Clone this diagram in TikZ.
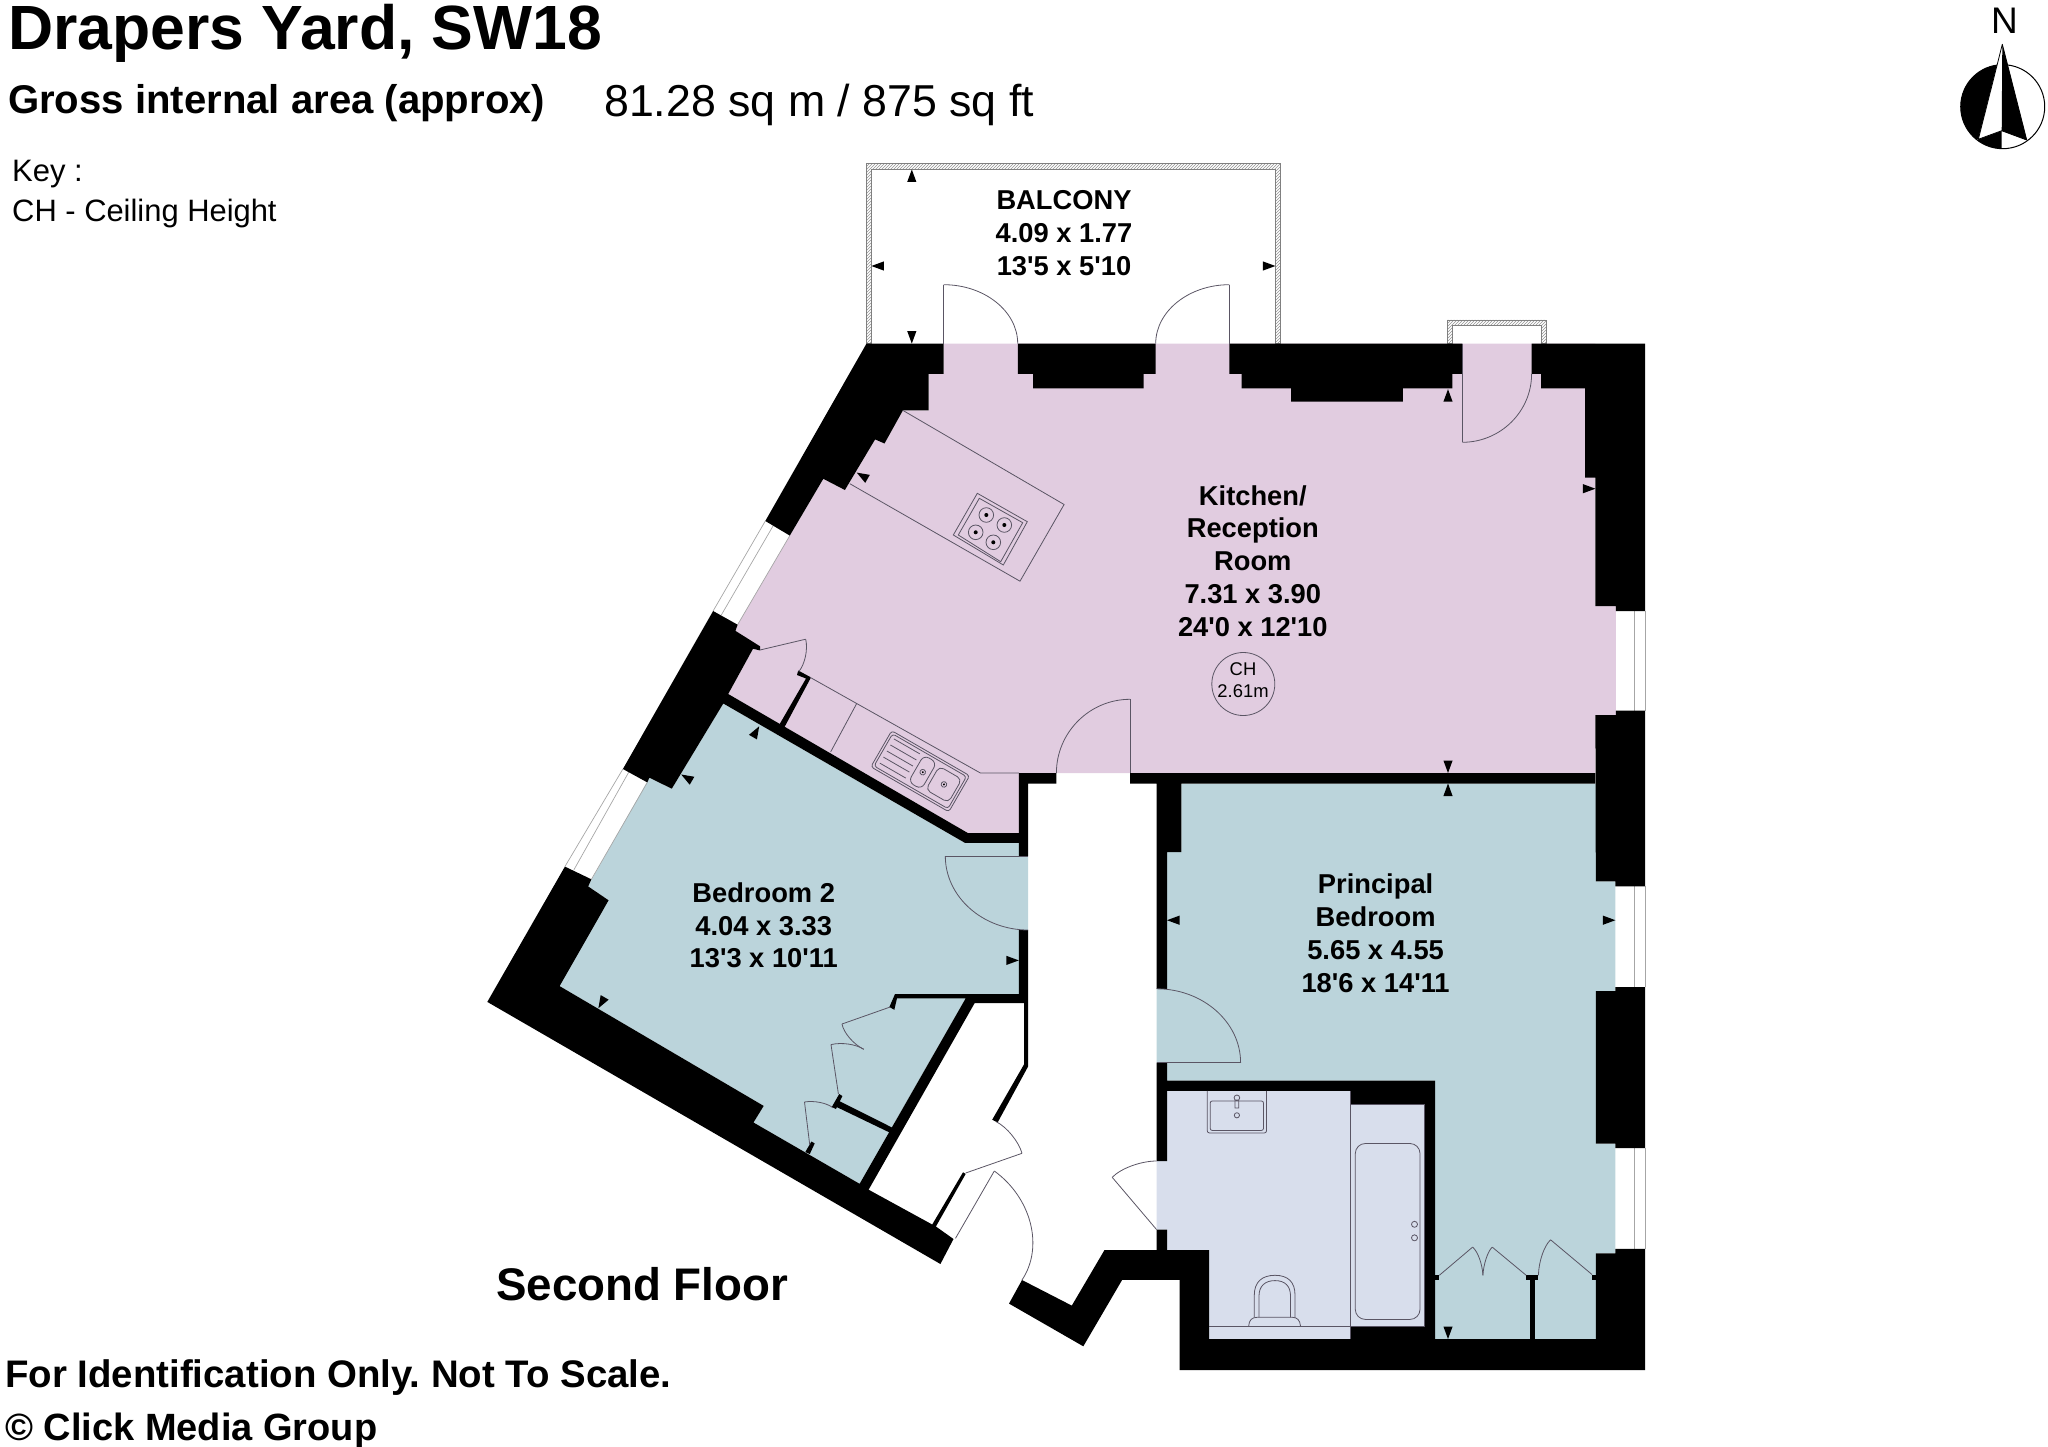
\documentclass[tikz,border=0pt]{standalone}
\usepackage{fontspec}
\setmainfont{Liberation Sans}
\usetikzlibrary{calc,patterns}
\definecolor{kitchenpink}{RGB}{225,204,224}
\definecolor{bedroomblue}{RGB}{187,212,219}
\definecolor{bathlilac}{RGB}{216,222,236}
\definecolor{linegrey}{RGB}{90,85,100}
\newcommand{\swing}[3]{\draw[lineart] (#1) .. controls ($(#1)!.55!(#2)$) and ($(#3)!.55!(#2)$) .. (#3);}
\tikzset{
   wall/.style={fill=black},
   lineart/.style={draw=linegrey, line width=0.8pt},
   windowline/.style={draw=gray!70, line width=0.7pt},
   hatchband/.style={draw=gray, line width=0.6pt, pattern=north east lines, pattern color=gray!85},
   roomlabel/.style={font=\bfseries\fontsize{27.3}{32.8}\selectfont, align=center, inner sep=0pt},
   headline/.style={anchor=base west, inner sep=0pt}
}
\begin{document}
\frenchspacing
\begin{tikzpicture}[x=1pt, y=-1pt]
   \useasboundingbox (0,0) rectangle (2048,1447);
   % rooms
   \fill[kitchenpink] (943.7,343.6) -- (1595.4,343.6) -- (1595.4,606) -- (1615.8,606) -- (1615.8,715) -- (1595.4,715) -- (1595.4,773)
      -- (1018.8,773) -- (1018.8,833) -- (967.8,833) -- (728.2,694) -- (753,648.8) -- (760,650) -- (735.5,630.9) -- (737.6,624.7)
      -- (789.8,535.6) -- (823.3,478.8) -- (844.9,490) -- (875.1,439.4) -- (884.5,443.5) -- (902.9,410.4) -- (928.6,410.4)
      -- (928.6,373.9) -- (943.7,373.9) -- cycle;
   \fill[bedroomblue] (588,886) -- (649.4,777.7) -- (671.8,788.7) -- (723.3,703.5) -- (965,842.9) -- (1018.8,842.9) -- (1018.8,856)
      -- (1028.2,856) -- (1028.2,930) -- (1018.8,930) -- (1018.8,994) -- (965.7,998.3) -- (859.6,1183.8) -- (753.5,1122.5)
      -- (763.7,1105.9) -- (559.6,986.1) -- (608.6,900.3) -- cycle;
   \fill[bedroomblue] (1181.4,783.5) -- (1595.8,783.5) -- (1595.8,881.4) -- (1615.4,881.4) -- (1615.4,991.2) -- (1595.8,991.2)
      -- (1595.8,1143.5) -- (1615.4,1143.5) -- (1615.4,1253.3) -- (1595.8,1253.3) -- (1595.8,1339) -- (1435.2,1339) -- (1435.2,1080.6)
      -- (1167,1080.6) -- (1167,1062.7) -- (1156.6,1062.7) -- (1156.6,988.8) -- (1167,988.8) -- (1167,852) -- (1181.4,852) -- cycle;
   \fill[bathlilac] (1156.6,1161) -- (1167,1161) -- (1167,1090.8) -- (1350.8,1090.8) -- (1350.8,1104.3) -- (1424.8,1104.3) -- (1424.8,1326)
      -- (1350.8,1326) -- (1350.8,1339) -- (1209,1339) -- (1209,1250) -- (1167,1250) -- (1167,1229.6) -- (1156.6,1229.6) -- cycle;
   % balconies
   \draw[hatchband] (866.5,343.6) -- (866.5,163.7) -- (1280,163.7) -- (1280,343.6) -- (1275,343.6) -- (1275,169.5) -- (871.5,169.5) -- (871.5,343.6) -- cycle;
   \draw[hatchband] (1447.5,343.6) -- (1447.5,320) -- (1546.4,320) -- (1546.4,343.6) -- (1541.2,343.6) -- (1541.2,325.5) -- (1452.7,325.5) -- (1452.7,343.6) -- cycle;
   % windows
   \draw[windowline] (765.3,521) -- (713.1,611) (773.5,525.2) -- (721.2,615.2) (789.8,535.6) -- (737.6,624.7);
   \draw[windowline] (622.9,769) -- (564.9,866.6) (629,771.7) -- (573.9,869.8) (647.3,782.4) -- (591.4,879.3);
   \foreach \wtop/\wbot in {611/710.5, 886.3/987.1, 1148/1248.8} {
      \draw[windowline] (1645,\wtop) -- (1645,\wbot) (1634.5,\wtop) -- (1634.5,\wbot);
   }
   % walls
   \fill[wall] (866.5,343.6) -- (943.7,343.6) -- (943.7,373.9) -- (928.6,373.9) -- (928.6,410.4) -- (902.9,410.4) -- (884.5,443.5) -- (875.1,439.4)
      -- (844.9,490) -- (823.3,478.8) -- (789.8,535.6) -- (765.3,521) -- cycle;
   \fill[wall] (1017.8,343.6) -- (1017.8,373.9) -- (1033,373.9) -- (1033,388.4) -- (1143.5,388.4) -- (1143.5,373.9) -- (1155.7,373.9) -- (1155.7,343.6) -- cycle;
   \fill[wall] (1229.4,343.6) -- (1229.4,373.9) -- (1241.5,373.9) -- (1241.5,388.4) -- (1291,388.4) -- (1291,401.7) -- (1402.9,401.7) -- (1402.9,388.4)
      -- (1452.3,388.4) -- (1452.3,373.9) -- (1462.3,373.9) -- (1462.3,343.6) -- cycle;
   \fill[wall] (1531.6,343.6) -- (1645,343.6) -- (1645,611) -- (1615.8,611) -- (1615.8,606) -- (1595.4,606) -- (1595.4,477.5) -- (1585,477.5) -- (1585,388.4)
      -- (1541.2,388.4) -- (1541.2,373.9) -- (1531.6,373.9) -- cycle;
   \fill[wall] (1595.4,715) -- (1615.8,715) -- (1615.8,710.5) -- (1645,710.5) -- (1645,886.3) -- (1615.4,886.3) -- (1615.4,881.4) -- (1595.8,881.4) -- cycle;
   \fill[wall] (1595.8,991.2) -- (1615.4,991.2) -- (1615.4,987.1) -- (1645,987.1) -- (1645,1148) -- (1615.4,1148) -- (1615.4,1143.5) -- (1595.8,1143.5) -- cycle;
   \fill[wall] (713.1,611) -- (737.6,624.7) -- (735.5,630.9) -- (760,646.3) -- (760,650.4) -- (753,648.8) -- (728.2,694) -- (967.8,833) -- (1018.8,833) -- (1018.8,842.9)
      -- (965,842.9) -- (723.3,703.5) -- (671.8,788.7) -- (649.4,777.7) -- (647.3,782.4) -- (622.9,769) -- cycle;
   \fill[wall] (1018.8,773) -- (1056.4,773) -- (1056.4,783.6) -- (1028.2,783.6) -- (1028.2,856) -- (1018.8,856) -- cycle;
   \fill[wall] (1130,773) -- (1595.4,773) -- (1595.4,783.5) -- (1181.4,783.5) -- (1181.4,852) -- (1167,852) -- (1167,988.8) -- (1156.6,988.8) -- (1156.6,783.5) -- (1130,783.5) -- cycle;
   \fill[wall] (1156.6,1062.7) -- (1167,1062.7) -- (1167,1080.6) -- (1435.2,1080.6) -- (1435.2,1345) -- (1350.8,1345) -- (1350.8,1326) -- (1424.8,1326) -- (1424.8,1104.3)
      -- (1350.8,1104.3) -- (1350.8,1090.8) -- (1167,1090.8) -- (1167,1161) -- (1156.6,1161) -- cycle;
   \fill[wall] (564.9,866.6) -- (591.4,879.3) -- (588.2,886.4) -- (608.6,900.3) -- (559.6,986.1) -- (763.7,1105.9) -- (753.5,1122.5) -- (859.6,1183.8) -- (965.7,998.3)
      -- (897,998.3) -- (894.3,1009.8) -- (889.4,1007) -- (895,994) -- (1018.8,994) -- (1018.8,930) -- (1028.2,930) -- (1028.2,1066.3) -- (997.6,1122.5) -- (992.2,1119.7)
      -- (1024,1064.4) -- (1024,1003) -- (974.7,1003) -- (868.6,1189.7) -- (932.2,1224.5) -- (963,1172.3) -- (965.7,1173.9) -- (935.9,1226.5) -- (953.5,1239)
      -- (940.4,1264) -- (487.3,1001.9) -- cycle;
   \fill[wall] (1156.6,1229.6) -- (1167,1229.6) -- (1167,1250) -- (1209,1250) -- (1209,1339) -- (1595.8,1339) -- (1595.8,1253.3) -- (1615.4,1253.3) -- (1615.4,1248.8)
      -- (1645,1248.8) -- (1645,1370) -- (1179.5,1370) -- (1179.5,1279.8) -- (1122.2,1279.8) -- (1083.3,1346.3) -- (1009,1303.6) -- (1022,1280) -- (1071.8,1305.6)
      -- (1104.5,1250) -- (1156.6,1250) -- cycle;
   % cupboards and wardrobes
   \fill[wall] (798.2,670.5) -- (811,677.4) -- (784.5,727.1) -- (779.6,724.2) -- (806,678.5) -- (797,675) -- cycle;
   \fill[wall] (837.1,1100) -- (892.2,1127.6) -- (889.4,1132.4) -- (834.3,1105.9) -- cycle;
   \fill[wall] (839.2,1094) -- (842.4,1096) -- (835.9,1109) -- (831.8,1107) -- cycle;
   \fill[wall] (811.4,1141.5) -- (814.7,1143.4) -- (809.8,1154) -- (805.3,1152) -- cycle;
   \fill[wall] (1530.3,1279.8) rectangle (1535.4,1339);
   \fill[wall] (1526.2,1275.3) rectangle (1538.4,1279.8);
   \fill[wall] (1435,1275.3) rectangle (1439.3,1279.8);
   \fill[wall] (1592,1275.3) rectangle (1595.8,1279.8);
   % doors
   \draw[lineart] (943.7,343.6) -- (943.7,284.7);
   \swing{943.7,284.7}{1017.7,284.7}{1017.7,343.6}
   \draw[lineart] (1229.4,343.6) -- (1229.4,284.7);
   \swing{1229.4,284.7}{1155.7,284.7}{1155.7,343.6}
   \draw[lineart] (1462.3,343.6) -- (1462.3,442.3);
   \swing{1462.3,442.3}{1531.6,442.3}{1531.6,373.9}
   \draw[lineart] (1130,773) -- (1130,699.3);
   \swing{1130,699.3}{1056.4,699.3}{1056.4,773}
   \draw[lineart] (1028.2,856) -- (945.3,856);
   \swing{945.3,856}{945.3,930}{1028.2,930}
   \draw[lineart] (1156.6,1062.7) -- (1240.6,1062.7);
   \swing{1240.6,1062.7}{1240.6,988.8}{1156.6,988.8}
   \draw[lineart] (1156.6,1229.6) -- (1112.2,1177.3);
   \swing{1112.2,1177.3}{1128,1161}{1156.6,1161}
   \draw[lineart] (955.5,1238.3) -- (994.3,1171);
   \swing{994.3,1171}{1062,1220}{1022,1280}
   \draw[lineart] (965.7,1173) -- (1022,1153.3);
   \swing{1022,1153.3}{1016,1132}{996.3,1121.7}
   \draw[lineart] (760,650) -- (805.7,639.2);
   \swing{805.7,639.2}{810,658}{798.8,671.6}
   \draw[lineart] (890.2,1007) -- (842,1024);
   \swing{842,1024}{845,1040}{863.7,1049.3}
   \draw[lineart] (838.4,1094) -- (831,1044.6);
   \swing{831,1044.6}{850,1040}{863.7,1049.3}
   \draw[lineart] (809.8,1145.4) -- (804.5,1102);
   \swing{804.5,1102}{822,1099}{833,1107.8}
   \draw[lineart] (1439.3,1275.3) -- (1472.6,1247.1);
   \swing{1472.6,1247.1}{1482,1255}{1482.9,1275.3}
   \draw[lineart] (1526.2,1275.3) -- (1492.2,1247.1);
   \swing{1492.2,1247.1}{1484,1255}{1482.9,1275.3}
   \draw[lineart] (1592,1274.5) -- (1550.6,1239.8);
   \swing{1550.6,1239.8}{1539,1250}{1538.4,1275.3}
   % kitchen units
   \draw[lineart] (902.9,410.4) -- (1064.1,504.5) -- (1020,581.2) -- (849.8,483.7);
   \draw[lineart] (977.3,493.3) -- (1027.3,521.7) -- (1003.3,565) -- (953.3,535) -- cycle;
   \draw[lineart] (979.3,498.3) -- (1022.7,522.7) -- (1000.7,561.7) -- (958.3,535) -- cycle;
   \foreach \bx/\by in {986.3/515, 1004.3/525, 975.7/532.3, 993.3/542.3} {
      \draw[lineart] (\bx,\by) circle (7.3);
      \fill (\bx,\by) circle (2);
   }
   \draw[lineart] (810.2,677.4) -- (980.4,773) -- (1018.8,773) (856.7,703.5) -- (830.6,752);
   \begin{scope}[shift={(891.7,730.7)}, rotate=-30]
      \draw[lineart, rounded corners=3pt] (0,0) rectangle (90,41.7);
      \draw[lineart, rounded corners=3pt] (2.3,2.3) rectangle (87.7,39.4);
      \draw[lineart, rounded corners=6pt] (40,5) rectangle (55,36);
      \draw[lineart, rounded corners=5pt] (59,7) rectangle (85,34);
      \foreach \dy in {6,13,20,27,34} {\draw[lineart] (6,\dy) -- (36,\dy);}
      \foreach \dx in {47.6,72.1} {
         \draw[lineart] (\dx,20.4) circle (2.8);
         \fill (\dx,20.4) circle (1.1);
      }
   \end{scope}
   % bathroom fittings
   \draw[lineart] (1350.8,1090.8) -- (1350.8,1339) (1350.8,1104.3) -- (1424.8,1104.3) -- (1424.8,1326) -- (1350.8,1326) (1209,1326.3) -- (1350.8,1326.3);
   \draw[lineart, rounded corners=10pt] (1355.3,1143.5) rectangle (1420,1319.4);
   \foreach \ty in {1224.3,1237.8} {\draw[lineart] (1414.5,\ty) circle (3);}
   \draw[lineart, rounded corners=2pt] (1207.3,1090.8) -- (1207.3,1132.9) -- (1266.5,1132.9) -- (1266.5,1090.8);
   \draw[lineart, rounded corners=2pt] (1210.2,1101) rectangle (1263.5,1130.4);
   \draw[lineart] (1236.9,1097.8) circle (2.8) (1236.9,1115.3) circle (2.6) (1235,1100) rectangle (1238.8,1108);
   \draw[lineart] (1254.3,1317.3) -- (1254.3,1295) .. controls (1254.3,1282) and (1262,1275.3) .. (1275,1275.3) .. controls (1288,1275.3) and (1295,1282) .. (1295,1295) -- (1295,1317.3);
   \draw[lineart] (1259,1317.3) -- (1259,1296) .. controls (1259,1286) and (1265,1280.6) .. (1275,1280.6) .. controls (1285,1280.6) and (1290.5,1286) .. (1290.5,1296) -- (1290.5,1317.3);
   \draw[lineart] (1248.7,1326) .. controls (1249,1320) and (1252,1317.3) .. (1257.2,1317.3) -- (1292.4,1317.3) .. controls (1297,1317.3) and (1300,1320) .. (1300.5,1326);
   % measuring tips
   \foreach \tx/\ty/\tang in {911.8/169.5/90, 911.8/343.6/-90, 871.4/266/180, 1275.4/266/0,
      1448/389.2/90, 1448/773/-90, 1595.4/488.7/0, 856.7/472.6/150,
      759.2/726.3/60, 681.2/774.5/150, 1018.8/960.4/0, 598.4/1008.2/-120,
      1448/783.5/90, 1448/1339/-90, 1167/920.2/180, 1615.4/920.2/0} {
      \fill[shift={(\tx,\ty)}, rotate=\tang] (0,0) -- (-12.5,-4.6) -- (-12.5,4.6) -- cycle;
   }
   % labels
   \node (title) [headline, font=\bfseries\fontsize{62.5}{62.5}\selectfont] at (8,50) {Drapers Yard, SW18};
   \node (gross) [headline, font=\bfseries\fontsize{40.1}{40.1}\selectfont] at (8,113.6) {Gross internal area (approx)};
   \node (area) [headline, font=\fontsize{44.7}{44.7}\selectfont] at (604,117) {81.28 sq m / 875 sq ft};
   \node (keyhead) [headline, font=\fontsize{31}{31}\selectfont] at (12,181.5) {Key :};
   \node (keyline) [headline, font=\fontsize{30.9}{31}\selectfont] at (12,222) {CH - Ceiling Height};
   \node (balcony) [roomlabel] at (1064,233) {BALCONY\\4.09 x 1.77\\13\textquotesingle 5 x 5\textquotesingle 10};
   \node (kitchen) [roomlabel] at (1252.8,561) {Kitchen/\\Reception\\Room\\7.31 x 3.90\\24\textquotesingle 0 x 12\textquotesingle 10};
   \node (bedtwo) [roomlabel] at (763.7,925.4) {Bedroom 2\\4.04 x 3.33\\13\textquotesingle 3 x 10\textquotesingle 11};
   \node (principal) [roomlabel] at (1375.6,933.4) {Principal\\Bedroom\\5.65 x 4.55\\18\textquotesingle 6 x 14\textquotesingle 11};
   \node (height) [circle, draw=linegrey, line width=0.8pt, minimum size=63pt, inner sep=0pt] at (1243.3,684) {};
   \node (heighttext) [inner sep=0pt, align=center, font=\fontsize{18.4}{22.4}\selectfont] at (1243,680) {CH\\2.61m};
   \node (floor) [headline, font=\bfseries\fontsize{45.7}{45.7}\selectfont] at (496,1300.5) {Second Floor};
   \node (scale) [headline, font=\bfseries\fontsize{38.4}{38.4}\selectfont] at (5,1387) {For Identification Only. Not To Scale.};
   \node (credit) [headline, font=\bfseries\fontsize{38}{38}\selectfont] at (5,1440) {© Click Media Group};
   % north point
   \node (north) [headline, anchor=base, font=\fontsize{37}{37}\selectfont] at (2004.5,33.3) {N};
   \begin{scope}
      \clip (2002.7,106.7) circle (42);
      \fill (2002.3,44.3) -- (1978.3,139.3) -- (1950,139.3) -- (1950,44.3) -- cycle;
      \fill (1978.3,139.3) -- (2001.7,130.7) -- (2001.7,160) -- (1950,160) -- cycle;
   \end{scope}
   \draw[line width=1pt] (2002.7,106.7) circle (42);
   \fill[white] (2002.3,44.3) -- (1978.3,139.3) -- (2001.7,130.7) -- cycle;
   \fill (2002.3,44.3) -- (2026.7,140) -- (2001.7,130.7) -- cycle;
   \draw[line width=0.8pt, line join=round] (2002.3,44.3) -- (1978.3,139.3) -- (2001.7,130.7) -- (2026.7,140) -- cycle;
\end{tikzpicture}
\end{document}
